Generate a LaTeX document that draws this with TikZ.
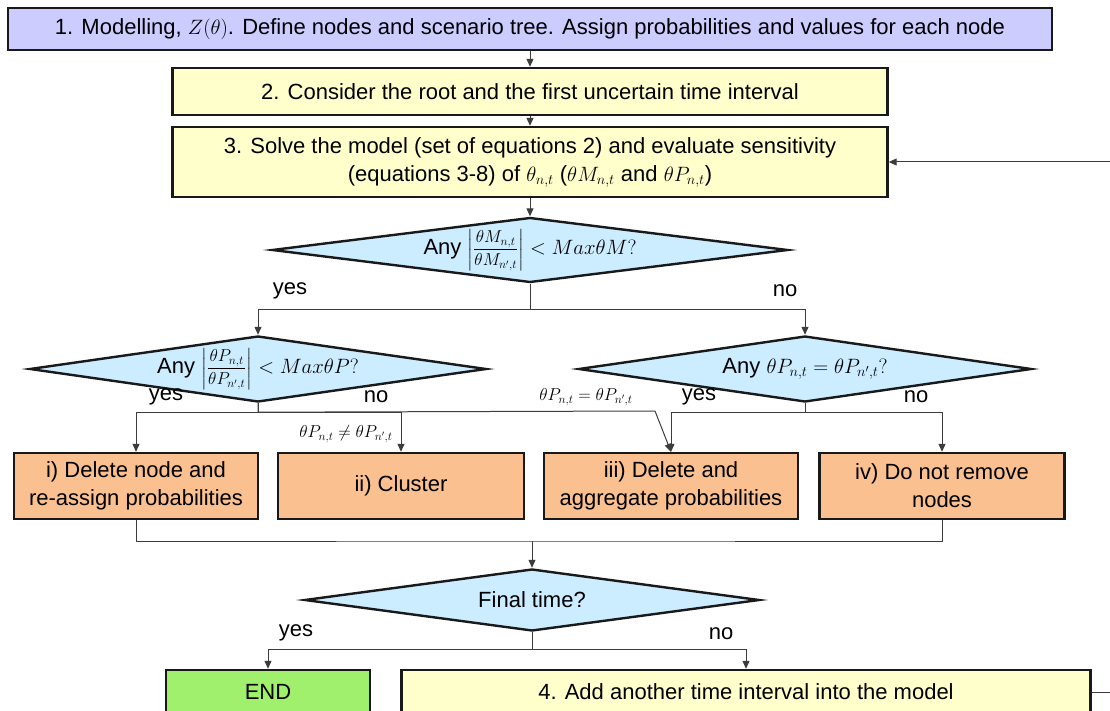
\documentclass[tikz,border=0pt]{standalone}
\usepackage{fontspec}
\usepackage{amsmath}
\setmainfont{Liberation Sans}
\usetikzlibrary{shapes.geometric,arrows.meta}

\definecolor{lavender}{RGB}{204,204,255}
\definecolor{paleyellow}{RGB}{255,255,204}
\definecolor{peach}{RGB}{250,192,144}
\definecolor{paleblue}{RGB}{204,236,255}
\definecolor{endgreen}{RGB}{160,240,110}
\definecolor{rim}{RGB}{25,25,25}
\definecolor{wire}{RGB}{60,60,60}

\newcommand{\ratiosize}{\fontsize{17}{20}\selectfont}

\tikzset{
  box/.style = {draw = rim, line width = 2.4pt, inner sep = 0pt, align = center},
  model/.style = {box, fill = lavender},
  stage/.style = {box, fill = paleyellow},
  action/.style = {box, fill = peach},
  finish/.style = {box, fill = endgreen},
  decision/.style = {diamond, draw = rim, line width = 2.4pt, fill = paleblue, inner sep = 0pt},
  arrow/.style = {draw = wire, line width = 1pt, -{Triangle[length = 8pt, width = 7pt]}},
  wireline/.style = {draw = wire, line width = 1pt},
  cond/.style = {font = \fontsize{17}{20}\selectfont}
}

\begin{document}
\begin{tikzpicture}[x = 1pt, y = -1pt, every node/.style = {font = \fontsize{22}{28}\selectfont}]
\useasboundingbox (0, 0) rectangle (1110, 711);
\clip (0, 0) rectangle (1110, 711);

% main column
\node[model, minimum width = 1044pt, minimum height = 42pt] (m1) at (530, 29) {1. Modelling, $Z(\theta)$. Define nodes and scenario tree. Assign probabilities and values for each node};
\node[stage, minimum width = 715pt, minimum height = 47pt] (s2) at (530, 91.5) {2. Consider the root and the first uncertain time interval};
\node[stage, minimum width = 715pt, minimum height = 70pt] (s3) at (530, 162) {3. Solve the model (set of equations 2) and evaluate sensitivity\\(equations 3-8) of $\theta_{n,t}$ ($\theta M_{n,t}$ and $\theta P_{n,t}$)};

% decisions
\node[decision, minimum width = 516pt, minimum height = 65pt,
  label = center:{Any {\ratiosize$\left|\dfrac{\theta M_{n,t}}{\theta M_{n',t}}\right|$} $< Max\theta M?$}] (d1) at (530, 250) {};
\node[decision, minimum width = 457pt, minimum height = 66pt,
  label = center:{Any {\ratiosize$\left|\dfrac{\theta P_{n,t}}{\theta P_{n',t}}\right|$} $< Max\theta P?$}] (d2) at (258, 369) {};
\node[decision, minimum width = 453pt, minimum height = 66pt,
  label = center:{Any $\theta P_{n,t} = \theta P_{n',t}?$}] (d3) at (805, 369) {};

% actions
\node[action, minimum width = 244pt, minimum height = 66pt] (a1) at (136, 486) {i) Delete node and\\re-assign probabilities};
\node[action, minimum width = 246pt, minimum height = 66pt] (a2) at (401, 486) {ii) Cluster};
\node[action, minimum width = 254pt, minimum height = 66pt] (a3) at (671, 486) {iii) Delete and\\aggregate probabilities};
\node[action, minimum width = 245pt, minimum height = 66pt] (a4) at (942, 486) {iv) Do not remove\\nodes};

\node[decision, minimum width = 455pt, minimum height = 62pt,
  label = center:{Final time?}] (d4) at (532, 600) {};
\node[finish, minimum width = 204pt, minimum height = 44pt] (fin) at (268, 692) {END};
\node[stage, minimum width = 689pt, minimum height = 44pt] (s4) at (746, 692) {4. Add another time interval into the model};

% branch labels
\node (y1) at (290, 291) {yes};
\node (n1) at (785, 291) {no};
\node (y2) at (166, 397) {yes};
\node (n2) at (376, 397) {no};
\node (y3) at (699, 397) {yes};
\node (n3) at (916, 397) {no};
\node (y4) at (296, 633) {yes};
\node (n4) at (721, 634) {no};
\node[cond] (eqlbl) at (586, 397) {$\theta P_{n,t} = \theta P_{n',t}$};
\node[cond] (neqlbl) at (346, 434) {$\theta P_{n,t} \neq \theta P_{n',t}$};

% connectors
\coordinate (bend) at (655, 411);
\coordinate (join) at (532, 541);
\coordinate (loop) at (1130, 692);
\draw[arrow] (m1) -- (s2);
\draw[arrow] (s2) -- (s3);
\draw[arrow] (s3) -- (d1);
\draw[arrow] (d1.south) -- ++(0, 26) -| (d2.north);
\draw[arrow] (d1.south) -- ++(0, 26) -| (d3.north);
\draw[arrow] (d2.south) -- ++(0, 9) -| (a1.north);
\draw[arrow] (d2.south) -- ++(0, 9) -| (a2.north);
\draw[arrow] (d2.south) -- ++(0, 9) -- (bend) -- (a3.north);
\draw[arrow] (d3.south) -- ++(0, 9) -| (a3.north);
\draw[arrow] (d3.south) -- ++(0, 9) -| (a4.north);
\draw[wireline] (a1.south) |- (join) -| (a4.south);
\draw[arrow] (join) -- (d4);
\draw[arrow] (d4.south) -- ++(0, 17) -| (fin.north);
\draw[arrow] (d4.south) -- ++(0, 17) -| (s4.north);
\draw[arrow] (s4.east) -- (loop) |- (s3.east);
\end{tikzpicture}
\end{document}
